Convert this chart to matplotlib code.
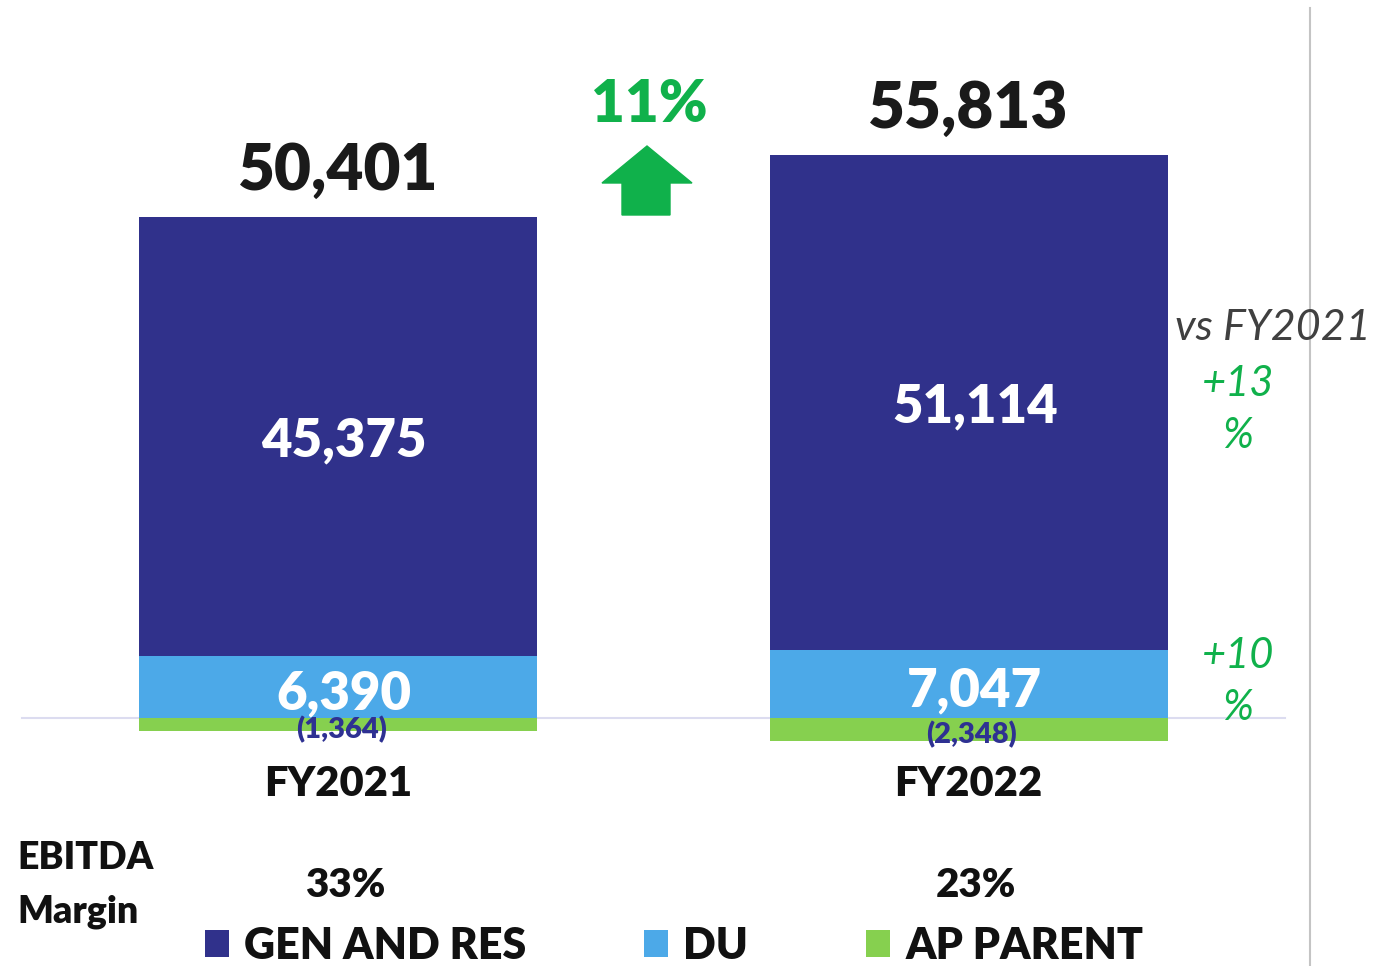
import matplotlib.pyplot as plt
import matplotlib.patches as mpatches
import numpy as np

plt.rcParams['font.family'] = ['Lato', 'DejaVu Sans']

# data
years = ['FY2021', 'FY2022']
gen_res = [45375, 51114]
du = [6390, 7047]
ap_parent = [-1364, -2348]
totals = [50401, 55813]
margins = ['33%', '23%']
growth_total = '11%'
growth_gen = '+13\n%'
growth_du = '+10\n%'

navy = '#30318b'
blue = '#4ca9e8'
lgreen = '#86d04f'
green = '#10b14b'
BW = 'heavy'

W, H = 1378, 966
fig = plt.figure(figsize=(W / 100, H / 100), dpi=100)
ax = fig.add_axes([0, 0, 1, 1])

# pixel mapping: x=0 -> 338px, x=1 -> 968px ; y=0 -> 718px, 1px = 103.3 units
px_x = 630.5
px_y = 103.3
ax.set_xlim(-338 / px_x, (W - 338) / px_x)
ax.set_ylim(-(H - 718) * px_y, 718 * px_y)
ax.axis('off')

def ftxt(x, y, s, **kw):
    fig.text(x / W, 1 - y / H, s, **kw)

x = np.arange(len(years))
bw = 398 / px_x

ax.axhline(0, xmin=22 / W, xmax=1285 / W, color='#dcdcf0', lw=1.5, zorder=1)
b_du = ax.bar(x, du, bw, color=blue, zorder=2, label='DU')
b_gen = ax.bar(x, gen_res, bw, bottom=du, color=navy, zorder=2, label='GEN AND RES')
b_ap = ax.bar(x, ap_parent, bw, color=lgreen, zorder=2, label='AP PARENT')

for i in range(len(years)):
    top = du[i] + gen_res[i]
    ax.annotate(f'{totals[i]:,}', (x[i], top), xytext=(0, 33), textcoords='offset points',
                ha='center', va='center', fontsize=46, fontweight=BW, color='#1a1a1a')
    ax.text(x[i] + 0.01, du[i] + gen_res[i] / 2 - 500, f'{gen_res[i]:,}', ha='center', va='center',
            fontsize=38, fontweight=BW, color='white', zorder=3)
    ax.text(x[i] + 0.01, du[i] / 2 - 700, f'{du[i]:,}', ha='center', va='center',
            fontsize=38, fontweight=BW, color='white', zorder=3)
    ax.text(x[i] + 0.005, ap_parent[i] / 2 - 500, f'({-ap_parent[i]:,})', ha='center', va='center',
            fontsize=21, fontweight=BW, color='#2e3192', zorder=4)
    ax.text(x[i], -6800, years[i], ha='center', va='center',
            fontsize=30, fontweight=BW, color='#111111')
    ax.text(x[i] + 0.012, -17300, margins[i], ha='center', va='center',
            fontsize=29, fontweight=BW, color='#111111')

# growth arrow and label
ftxt(649, 105, growth_total, ha='center', va='center', fontsize=42, fontweight=BW, color=green)
arrow = mpatches.Polygon([(602, 183), (647, 146), (692, 183), (670, 183), (670, 215),
                          (622, 215), (622, 183)], closed=True, color=green,
                         transform=None)
arrow.set_xy([(px, H - py) for px, py in arrow.get_xy()])
fig.patches.append(arrow)

ftxt(1273, 328, 'vs FY2021', ha='center', va='center', fontsize=31, style='italic', color='#404040')
ftxt(1238, 410, growth_gen, ha='center', va='center', fontsize=30, style='italic', color=green,
     linespacing=1.45)
ftxt(1238, 682, growth_du, ha='center', va='center', fontsize=30, style='italic', color=green,
     linespacing=1.45)

ftxt(17, 858, 'EBITDA', ha='left', va='center', fontsize=27, fontweight=BW, color='#111111')
ftxt(17, 912, 'Margin', ha='left', va='center', fontsize=27, fontweight=BW, color='#111111')

# right separator
fig.add_artist(plt.Line2D([1310 / W, 1310 / W], [0, 1 - 8 / H], color='#c4c4c4', lw=1.5))

leg = ax.legend(handles=[b_gen, b_du, b_ap], loc='lower left', bbox_to_anchor=(205 / W, 0),
                bbox_transform=fig.transFigure, ncol=3, frameon=False, borderpad=0,
                borderaxespad=0, handlelength=0.55, handleheight=0.6, handletextpad=0.35,
                columnspacing=2.75, prop={'size': 31, 'weight': BW})
for t in leg.get_texts():
    t.set_color('#111111')

fig.savefig('out.png', dpi=100)
